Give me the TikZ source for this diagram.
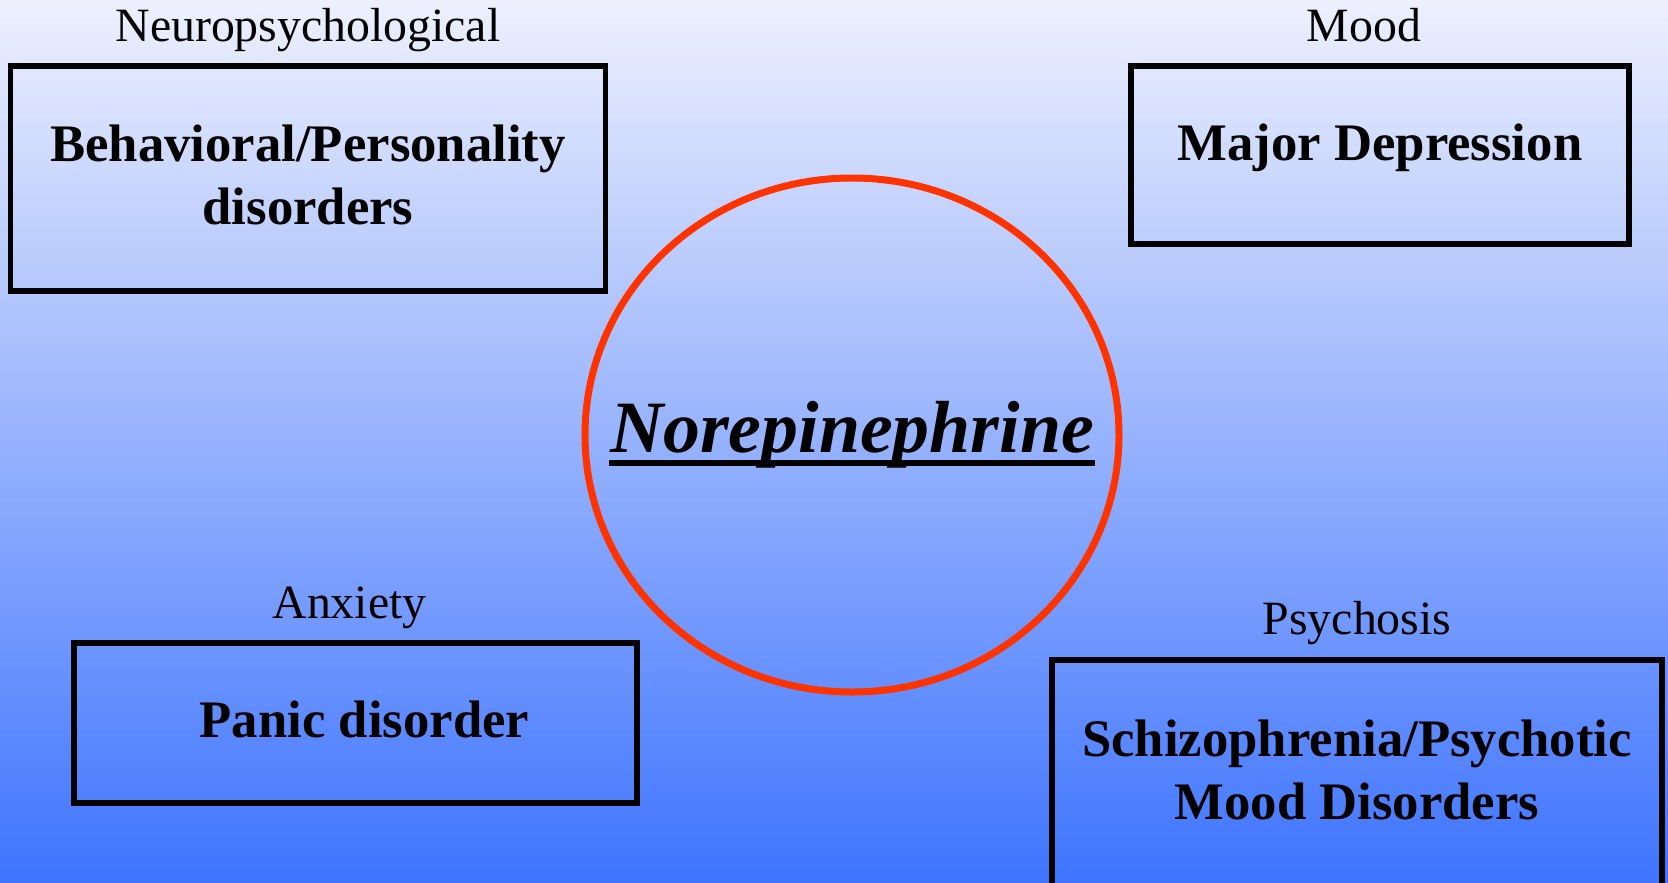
\documentclass[tikz,border=0pt]{standalone}
\usepackage{fontspec}
\setmainfont{Liberation Serif}
\usetikzlibrary{positioning,shapes.geometric}
\definecolor{bgtop}{RGB}{238,240,253}
\definecolor{bgbottom}{RGB}{62,116,254}
\definecolor{ring}{RGB}{255,51,0}

\begin{document}
\begin{tikzpicture}[
    disorder/.style={draw=black, line width=0.55mm, align=center, inner sep=0pt,
        font=\bfseries\fontsize{15}{17.9}\selectfont},
    catlabel/.style={inner sep=0pt, text height=9.5pt, text depth=3pt,
        font=\fontsize{13.6}{16}\selectfont},
    hub/.style={ellipse, draw=ring, line width=0.7mm, minimum width=5.34cm, minimum height=5.14cm}
  ]
    \useasboundingbox (0,0) rectangle (16.68,8.82);
    \clip (0,0) rectangle (16.68,8.82);
    \shade[top color=bgtop, bottom color=bgbottom] (0,0) rectangle (16.68,8.82);

    % centre
    \node[hub] (ne) at (8.52,4.47) {};
    \node[inner sep=0pt, font=\bfseries\itshape\fontsize{21}{25}\selectfont] (netext) at (8.52,4.47) {Norepinephrine};
    \draw[line width=1.6pt] ([yshift=-3pt]netext.base west) -- ([yshift=-3pt]netext.base east);

    % the four boxes
    \node[disorder, minimum width=5.95cm, minimum height=2.25cm, text depth=2.2pt] (behav) at (3.08,7.035) {Behavioral/Personality\\disorders};
    \node[catlabel, above=1.1mm of behav] (neurolbl) {Neuropsychological};

    \node[disorder, minimum width=4.98cm, minimum height=1.78cm, text depth=7pt] (major) at (13.80,7.27) {Major Depression};
    \node[catlabel, above=1.1mm of major, xshift=-1.6mm] (moodlbl) {Mood};

    \node[disorder, minimum width=5.63cm, minimum height=1.60cm, text depth=2pt] (panic) at (3.555,1.59) {\hspace{1.8mm}Panic disorder};
    \node[catlabel, above=1.1mm of panic, xshift=-0.6mm] (anxlbl) {Anxiety};

    \node[disorder, minimum width=6.10cm, inner ysep=6mm, text depth=2.5cm, anchor=north] (schizo) at (13.57,2.25) {Schizophrenia/Psychotic\\Mood Disorders};
    \node[catlabel, above=1.1mm of schizo] (psylbl) {Psychosis};
\end{tikzpicture}
\end{document}
